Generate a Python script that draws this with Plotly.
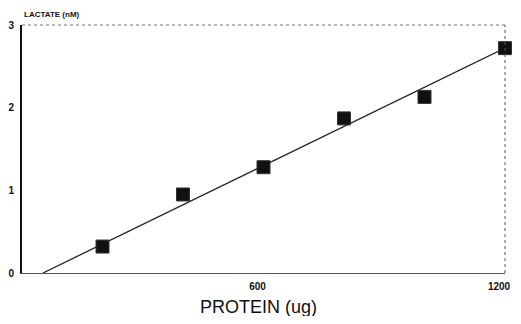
import plotly.graph_objects as go

protein = [200, 400, 600, 800, 1000, 1200]
lactate = [0.32, 0.95, 1.28, 1.87, 2.13, 2.72]
fit_x = [52, 1200]
fit_y = [0.0, 2.72]
x_ticks = [600, 1200]
y_ticks = [0, 1, 2, 3]

fig = go.Figure()
fig.add_trace(go.Scatter(x=fit_x, y=fit_y, mode="lines",
                         line=dict(color="#222", width=1.3), showlegend=False))
fig.add_trace(go.Scatter(x=protein, y=lactate, mode="markers", cliponaxis=False,
                         marker=dict(symbol="square", size=13, color="#111",
                                     line=dict(color="#333", width=1)),
                         showlegend=False))

# page body has an 8px margin, so the figure is sized to fit the 521x324 window
fig.update_layout(
    width=513, height=308,
    margin=dict(l=14, r=16, t=17, b=43),
    paper_bgcolor="white", plot_bgcolor="white",
    font=dict(family="Arial, Liberation Sans, sans-serif", color="#111"),
    xaxis=dict(range=[0, 1200], tickvals=x_ticks, ticktext=[str(v) for v in x_ticks],
               showgrid=False, zeroline=False, showline=True, linecolor="#555",
               linewidth=1, ticks="", tickfont=dict(size=10, weight="bold"),
               ticklabelstandoff=4, ticklabelshift=-6, automargin=False),
    yaxis=dict(range=[0, 3], tickvals=y_ticks, showgrid=False, zeroline=False,
               showline=True, linecolor="#111", linewidth=2, ticks="",
               tickfont=dict(size=10, weight="bold"), ticklabelstandoff=4,
               automargin=False),
)
# dotted top and right frame
fig.add_shape(type="line", xref="paper", yref="paper", x0=0, x1=1, y0=1, y1=1,
              line=dict(color="#777", width=1, dash="dot"))
fig.add_shape(type="line", xref="paper", yref="paper", x0=1, x1=1, y0=0, y1=1,
              line=dict(color="#555", width=1, dash="dot"))
fig.add_annotation(text="<b>LACTATE (nM)</b>", xref="paper", yref="paper",
                   x=0, y=1, xanchor="left", yanchor="bottom", yshift=4,
                   showarrow=False, font=dict(size=8, color="#111"))
fig.add_annotation(text="PROTEIN (ug)", xref="paper", yref="paper",
                   x=0.489, y=0, xanchor="center", yanchor="top", yshift=-22,
                   showarrow=False, font=dict(size=18, color="#111"))

fig.write_html("out.html")
